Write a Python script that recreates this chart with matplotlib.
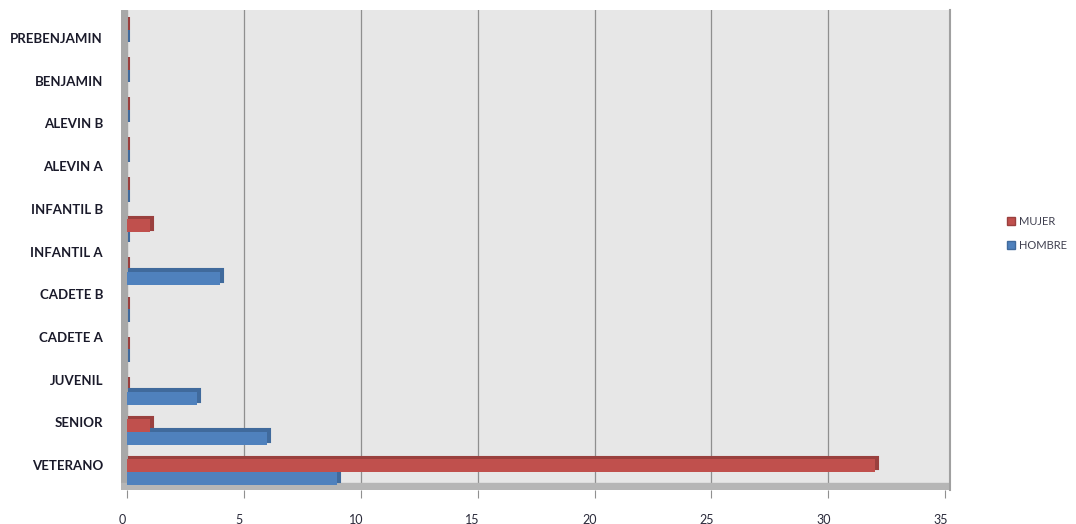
import numpy as np
import matplotlib
matplotlib.use('Agg')
import matplotlib.pyplot as plt
from matplotlib.patches import Patch
from matplotlib.transforms import ScaledTranslation

# Bar rows from the bottom (VETERANO) up; the chart shows 12 bar pairs
rows = np.arange(12)
mujer = [32, 1, 0, 0, 0, 0, 1, 0, 0, 0, 0, 0]
hombre = [9, 6, 3, 0, 0, 4, 0, 0, 0, 0, 0, 0]

# Category labels as printed on the axis (bottom to top)
labels = ['VETERANO', 'SENIOR', 'JUVENIL', 'CADETE A', 'CADETE B', 'INFANTIL A',
          'INFANTIL B', 'ALEVIN A', 'ALEVIN B', 'BENJAMIN', 'PREBENJAMIN']
x_ticks = [0, 5, 10, 15, 20, 25, 30, 35]

RED, RED_DARK = '#c0504d', '#9a403e'
BLUE, BLUE_DARK = '#4f81bd', '#406a9c'

fig = plt.figure(figsize=(10.76, 5.24), dpi=100)
ax = fig.add_axes([0.1125, 0.0649, 0.7704, 0.916])
ax.set_xlim(-0.25, 35.2)
ax.set_ylim(-0.45, 11.55)
ax.set_facecolor('#e7e7e7')

# back wall grid, left wall and floor
for v in x_ticks[1:-1]:
    ax.axvline(v, color='#8f8f8f', lw=0.9, zorder=1)
ax.axvspan(-0.25, 0, color='#a8a8a8', zorder=2)
ax.axhspan(-0.45, -0.28, color='#b6b6b6', zorder=2)

h = 0.32
shift = ScaledTranslation(2.5 / 100, 2.5 / 100, fig.dpi_scale_trans)

# darker copies shifted up/right give the 3d depth look
for vals, off, dark in [(mujer, h / 2, RED_DARK), (hombre, -h / 2, BLUE_DARK)]:
    bars = ax.barh(rows + off, vals, height=h, color=dark, edgecolor=dark, lw=1.5, zorder=3)
    for b in bars:
        b.set_transform(ax.transData + shift)
ax.barh(rows + h / 2, mujer, height=h, color=RED, zorder=4)
ax.barh(rows - h / 2, hombre, height=h, color=BLUE, zorder=4)

# labels sit on the front plane, spread a bit wider than the bars
ax.set_yticks(np.linspace(0.175, 10.85, len(labels)))
ax.set_yticklabels(labels, family='Lato', fontweight='bold', fontsize=9.5, color='#1a1a2a')
ax.tick_params(axis='y', length=0, pad=13)

ax.set_xticks(x_ticks)
ax.set_xticklabels([str(t) for t in x_ticks], family='Lato', fontsize=9, color='#2a2a3a')
ax.tick_params(axis='x', length=6, color='#909090', pad=11)
for lab in ax.get_xticklabels():
    lab.set_transform(lab.get_transform() + ScaledTranslation(-5 / 100, 0, fig.dpi_scale_trans))

for s in ['top', 'left', 'bottom']:
    ax.spines[s].set_visible(False)
ax.spines['right'].set_color('#a0a0a0')
ax.spines['right'].set_linewidth(1.5)

handles = [Patch(facecolor=RED, edgecolor=RED_DARK, label='MUJER'),
           Patch(facecolor=BLUE, edgecolor=BLUE_DARK, label='HOMBRE')]
fig.legend(handles=handles, loc='center left', bbox_to_anchor=(0.927, 0.555),
           frameon=False, prop={'family': 'Lato', 'size': 8}, labelcolor='#404050',
           handlelength=0.7, handleheight=0.7, handletextpad=0.3, labelspacing=1.2)

fig.savefig('out.png', dpi=100)
